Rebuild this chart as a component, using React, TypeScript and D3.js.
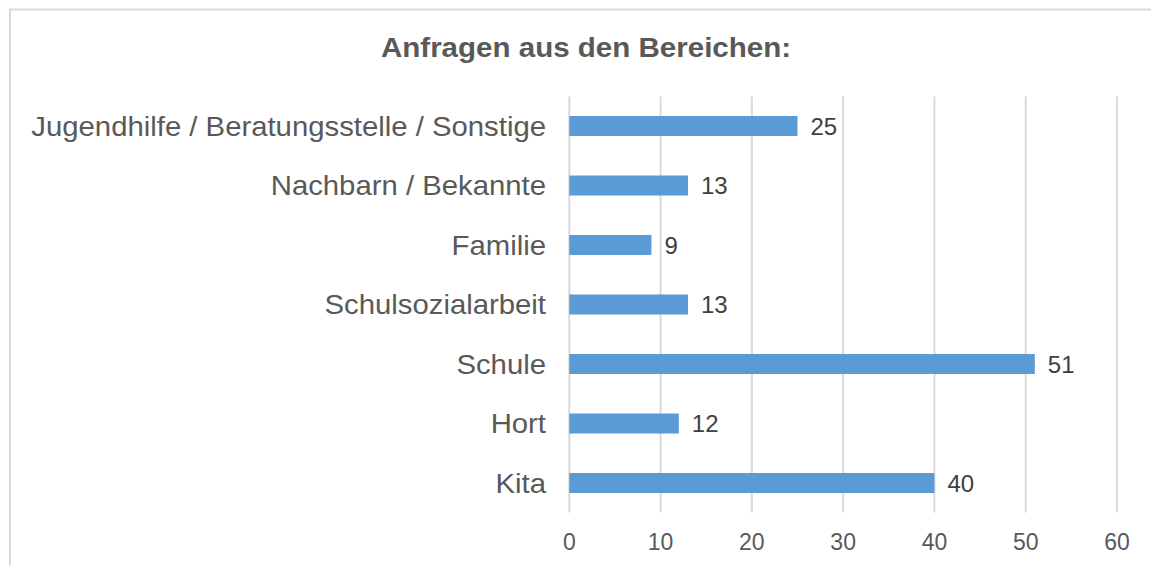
import React from "react";
import * as d3 from "d3";

const categories = [
  "Jugendhilfe / Beratungsstelle / Sonstige",
  "Nachbarn / Bekannte",
  "Familie",
  "Schulsozialarbeit",
  "Schule",
  "Hort",
  "Kita",
];
const values = [25, 13, 9, 13, 51, 12, 40];
const xTicks = [0, 10, 20, 30, 40, 50, 60];
const title = "Anfragen aus den Bereichen:";

const W = 1151;
const H = 565;
const TEXT = "#595959";
const GRID = "#D9D9D9";
const BAR = "#5B9BD5";
const FONT = "Arial, 'Liberation Sans', Helvetica, sans-serif";

export default function App() {
  const x = d3.scaleLinear().domain([0, 60]).range([569.3, 1117]);
  const y = d3
    .scaleBand<string>()
    .domain(categories)
    .range([96.25, 512.75])
    .paddingInner(0.664)
    .paddingOuter(0.332);
  const bw = y.bandwidth();

  return (
    <svg
      width={W}
      height={H}
      style={{ position: "absolute", left: 0, top: 0, background: "#fff" }}
      fontFamily={FONT}
    >
      <rect x={0} y={0} width={W} height={H} fill="#fff" />
      <rect x={10} y={9.5} width={W + 20} height={H + 20} fill="none" stroke={GRID} strokeWidth={2} />
      <text
        transform={`translate(586,56.5) scale(1.094,1)`}
        textAnchor="middle"
        fontSize={27}
        fontWeight="bold"
        fill={TEXT}
      >
        {title}
      </text>
      {xTicks.map((t) => (
        <line key={"g" + t} x1={x(t)} x2={x(t)} y1={96.5} y2={512.5} stroke={GRID} strokeWidth={2} />
      ))}
      {categories.map((c, i) => (
        <rect key={"b" + c} x={x(0)} y={y(c)!} width={x(values[i]) - x(0)} height={bw} fill={BAR} />
      ))}
      {categories.map((c, i) => (
        <text
          key={"v" + c}
          x={x(values[i]) + 13}
          y={y(c)! + bw / 2}
          dy="0.36em"
          fontSize={24}
          fill={"#404040"}
        >
          {values[i]}
        </text>
      ))}
      {categories.map((c) => (
        <text
          key={"c" + c}
          transform={`translate(546,${y(c)! + bw / 2}) scale(1.066,1)`}
          dy="0.36em"
          textAnchor="end"
          fontSize={27.5}
          fill={TEXT}
        >
          {c}
        </text>
      ))}
      {xTicks.map((t) => (
        <text key={"t" + t} x={x(t)} y={550} textAnchor="middle" fontSize={23} fill={TEXT}>
          {t}
        </text>
      ))}
    </svg>
  );
}
